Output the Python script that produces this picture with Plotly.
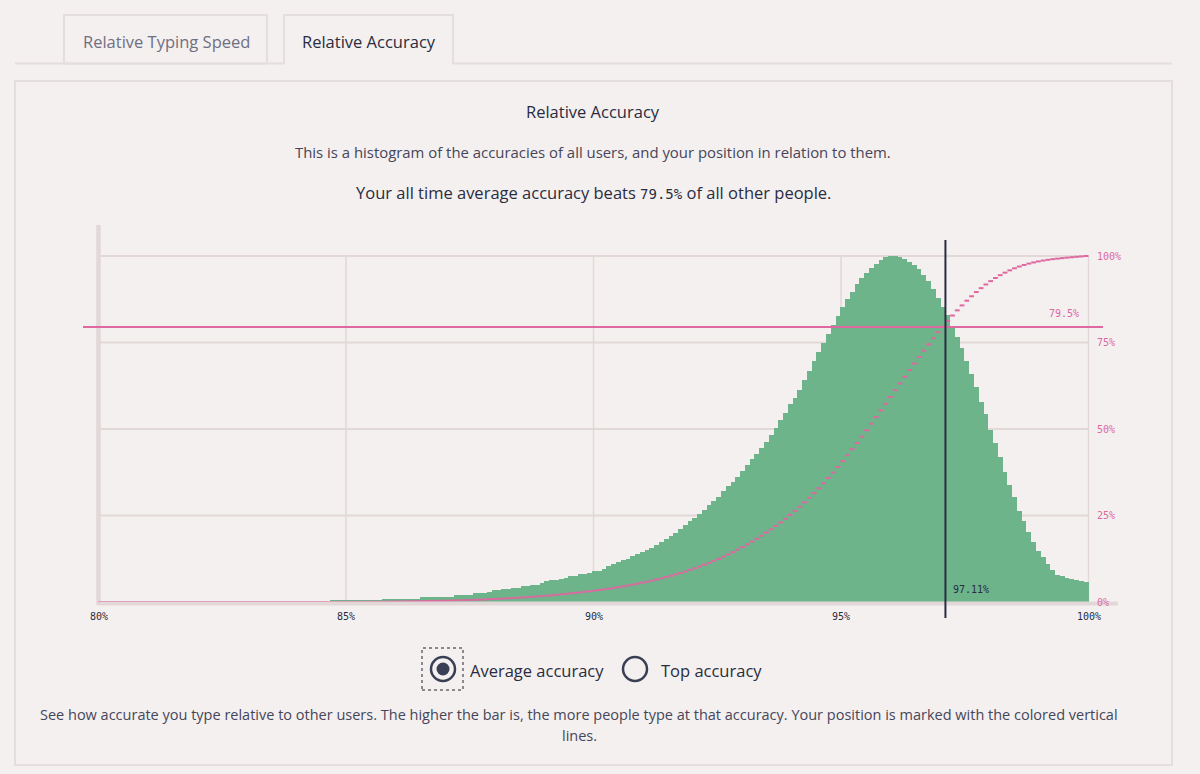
import plotly.graph_objects as go

# ---------------- data ----------------
ACC_START = 84.67   # left edge of first histogram bin (%)
ACC_END = 100.0     # right edge of last histogram bin (%)
# relative frequency of each accuracy bin (peak = 100)
freq = [
    0.3, 0.3, 0.3, 0.3, 0.3, 0.3, 0.3, 0.3, 0.3, 0.3, 0.3,
    1.0, 1.0, 1.0, 1.0, 1.0, 1.0, 1.0, 1.0,
    1.5, 1.5, 1.5, 1.5, 1.5, 1.5, 1.5,
    2.0, 2.0, 2.0, 2.0,
    2.5, 2.5, 2.5,
    3.0, 3.4, 3.4, 3.8, 3.8, 4.1, 4.1, 4.5, 4.5, 5.0, 5.0,
    5.5, 6.0, 6.5, 6.5, 6.6, 7.0, 7.5, 7.5, 8.0, 8.0, 8.5, 9.0, 9.0, 9.4,
    10.3, 10.9, 11.6, 12.1, 12.5,
    13.3, 13.8, 14.4, 15.0, 15.6, 16.4, 17.3, 18.2, 19.0, 20.0,
    21.1, 22.3, 23.4, 24.3, 25.5, 26.7, 27.9, 29.2, 30.4, 32.0,
    33.4, 34.7, 36.1, 37.9, 39.5, 41.2, 42.7, 44.5, 46.3, 48.2,
    50.3, 52.7, 54.7, 57.1, 59.0, 61.4, 64.1,
    66.7, 69.7, 72.3, 74.9, 77.6, 80.1, 82.8, 85.3, 87.5, 89.7,
    91.8, 93.5, 95.2, 96.6, 97.8, 98.8, 99.7, 100.0, 100.0, 99.7,
    99.0, 98.3, 97.4, 96.1, 94.4, 92.7, 90.6, 88.0, 85.3,
    82.9, 79.5, 76.6, 73.3, 69.7, 65.9, 62.0, 57.9, 54.2, 49.7,
    45.9, 41.8, 37.7, 33.8, 30.3, 26.2, 23.3, 20.2, 17.2, 14.8,
    13.0, 11.1, 9.3, 7.9, 7.4, 7.0, 6.6, 6.3, 6.0, 5.7,
]
x_tick_vals = [80, 85, 90, 95, 100]
x_tick_text = ["80%", "85%", "90%", "95%", "100%"]
y_tick_vals = [0, 25, 50, 75, 100]
y_tick_text = ["0%", "25%", "50%", "75%", "100%"]
user_accuracy = 97.11
user_percentile = 79.5

# ---------------- styling ----------------
W, H = 1200, 774
BG = "#f4f0ef"
GREEN = "#6db48b"
PINK = "#de68a0"
DARK = "#2a2c40"
GRID = "#e2d8d8"
BORDER = "#e4dedd"
MONO = "DejaVu Sans Mono"
SANS = "Open Sans"

# pixel mapping of the plot (axes span the whole figure)
PX_X80, PX_X100 = 98.5, 1088.5
PX_Y0, PX_Y100 = 602.0, 256.0
ux = (PX_X100 - PX_X80) / 20.0
uy = (PX_Y0 - PX_Y100) / 100.0
x_range = [80 - PX_X80 / ux, 100 + (W - PX_X100) / ux]
y_range = [0 - (H - PX_Y0) / uy, 100 + PX_Y100 / uy]


def px(x):
    return x / W


def py(y):
    return 1 - y / H


def dx(p):  # pixel x -> data x
    return 80 + (p - PX_X80) / ux


def dy(p):  # pixel y -> data y
    return (PX_Y0 - p) / uy


n = len(freq)
bw = (ACC_END - ACC_START) / n
centers = [ACC_START + bw * (i + 0.5) for i in range(n)]
total = sum(freq)
cum = []
s = 0.0
for v in freq:
    s += v
    cum.append(s / total * 100)

cx, cy = [80, ACC_START, None], [0, 0, None]
for i, c in enumerate(cum):
    cx += [ACC_START + bw * i, ACC_START + bw * (i + 1), None]
    cy += [c, c, None]

fig = go.Figure()
fig.add_trace(go.Bar(x=centers, y=freq, width=bw, marker=dict(color=GREEN, line=dict(width=0)),
                     hoverinfo="skip", showlegend=False))
fig.add_trace(go.Scatter(x=cx, y=cy, mode="lines", line=dict(color=PINK, width=2),
                         hoverinfo="skip", showlegend=False, connectgaps=False))

shapes = []
# panel + tabs
shapes.append(dict(type="rect", xref="paper", yref="paper", x0=px(15), x1=px(1172), y0=py(765), y1=py(81),
                   line=dict(color=BORDER, width=2), layer="below"))
shapes.append(dict(type="line", xref="paper", yref="paper", x0=px(15), x1=px(284), y0=py(63.5), y1=py(63.5),
                   line=dict(color=BORDER, width=2), layer="below"))
shapes.append(dict(type="line", xref="paper", yref="paper", x0=px(453), x1=px(1172), y0=py(63.5), y1=py(63.5),
                   line=dict(color=BORDER, width=2), layer="below"))
shapes.append(dict(type="rect", xref="paper", yref="paper", x0=px(64), x1=px(267), y0=py(63.5), y1=py(15),
                   line=dict(color=BORDER, width=2), layer="below"))
shapes.append(dict(type="path", xref="paper", yref="paper",
                   path=f"M {px(284)},{py(64)} L {px(284)},{py(15)} L {px(453)},{py(15)} L {px(453)},{py(64)}",
                   line=dict(color=BORDER, width=2), layer="below"))

# gridlines
for v in y_tick_vals[1:]:
    shapes.append(dict(type="line", xref="x", yref="y", x0=80, x1=100, y0=v, y1=v,
                       line=dict(color=GRID, width=2), layer="below"))
for v in x_tick_vals[1:-1]:
    shapes.append(dict(type="line", xref="x", yref="y", x0=v, x1=v, y0=0, y1=100,
                       line=dict(color=GRID, width=1.5), layer="below"))
# right axis line
shapes.append(dict(type="line", xref="x", yref="y", x0=100, x1=100, y0=0, y1=100,
                   line=dict(color=GRID, width=1.5), layer="below"))
# left axis bar
shapes.append(dict(type="line", xref="x", yref="y", x0=80, x1=80, y0=dy(605), y1=dy(225),
                   line=dict(color=GRID, width=4.5), layer="below"))
# bottom axis bar
shapes.append(dict(type="line", xref="x", yref="y", x0=80, x1=dx(1118), y0=dy(603.5), y1=dy(603.5),
                   line=dict(color=GRID, width=4), layer="above"))
# percentile line
shapes.append(dict(type="line", xref="x", yref="y", x0=dx(83), x1=dx(1103), y0=user_percentile, y1=user_percentile,
                   line=dict(color=PINK, width=2), layer="above"))
# user accuracy line
shapes.append(dict(type="line", xref="x", yref="y", x0=user_accuracy, x1=user_accuracy, y0=dy(618), y1=dy(240),
                   line=dict(color=DARK, width=2), layer="above"))

# radio buttons
shapes.append(dict(type="rect", xref="paper", yref="paper", x0=px(422), x1=px(463), y0=py(690), y1=py(648),
                   line=dict(color="#222222", width=1, dash="dot")))
shapes.append(dict(type="circle", xref="paper", yref="paper", x0=px(431), x1=px(455), y0=py(681), y1=py(657),
                   line=dict(color="#3a3f55", width=2.5)))
shapes.append(dict(type="circle", xref="paper", yref="paper", x0=px(436.5), x1=px(449.5), y0=py(675.5), y1=py(662.5),
                   fillcolor="#3a3f55", line=dict(color="#3a3f55", width=0)))
shapes.append(dict(type="circle", xref="paper", yref="paper", x0=px(623), x1=px(647), y0=py(681), y1=py(657),
                   line=dict(color="#3a3f55", width=2.5)))

ann = []


def text(x, y, t, size, color=DARK, family=SANS, xanchor="center"):
    ann.append(dict(xref="paper", yref="paper", x=px(x), y=py(y), text=t, showarrow=False,
                    font=dict(size=size, color=color, family=family), xanchor=xanchor, yanchor="middle"))


text(166, 42, "Relative Typing Speed", 16.5, color="#6f6f82")
text(369, 42, "Relative Accuracy", 16.5)
text(593, 112, "Relative Accuracy", 16.5)
text(593, 152, "This is a histogram of the accuracies of all users, and your position in relation to them.", 14.9,
     color="#46465a")
text(593, 192, f"Your all time average accuracy beats <span style='font-family:{MONO};font-size:14px'>"
     f"{user_percentile}%</span> of all other people.", 16.5)
text(468, 670, "Average accuracy", 16.5, xanchor="left")
text(659, 670, "Top accuracy", 16.5, xanchor="left")
text(579, 714, "See how accurate you type relative to other users. The higher the bar is, the more people type at "
               "that accuracy. Your position is marked with the colored vertical", 14.5, color="#46465a")
text(579, 735, "lines.", 14.5, color="#46465a")

# axis labels
for v, t in zip(x_tick_vals, x_tick_text):
    ann.append(dict(xref="x", yref="paper", x=v, y=py(616), text=t, showarrow=False,
                    font=dict(size=10, color=DARK, family=MONO), xanchor="center", yanchor="middle"))
for v, t in zip(y_tick_vals, y_tick_text):
    ann.append(dict(xref="paper", yref="y", x=px(1095), y=v, text=t, showarrow=False,
                    font=dict(size=10, color=PINK, family=MONO), xanchor="left", yanchor="middle"))
ann.append(dict(xref="paper", yref="y", x=px(1081), y=dy(313), text=f"{user_percentile}%", showarrow=False,
                font=dict(size=10, color=PINK, family=MONO), xanchor="right", yanchor="middle"))
ann.append(dict(xref="paper", yref="y", x=px(951), y=dy(589), text=f"{user_accuracy}%", showarrow=False,
                font=dict(size=10, color=DARK, family=MONO), xanchor="left", yanchor="middle"))

fig.update_layout(
    width=W, height=H, margin=dict(l=0, r=0, t=0, b=0),
    paper_bgcolor=BG, plot_bgcolor=BG, bargap=0,
    xaxis=dict(range=x_range, domain=[0, 1], visible=False, fixedrange=True),
    yaxis=dict(range=y_range, domain=[0, 1], visible=False, fixedrange=True),
    shapes=shapes, annotations=ann, showlegend=False,
)
fig.write_html("out.html", config={"displayModeBar": False})
